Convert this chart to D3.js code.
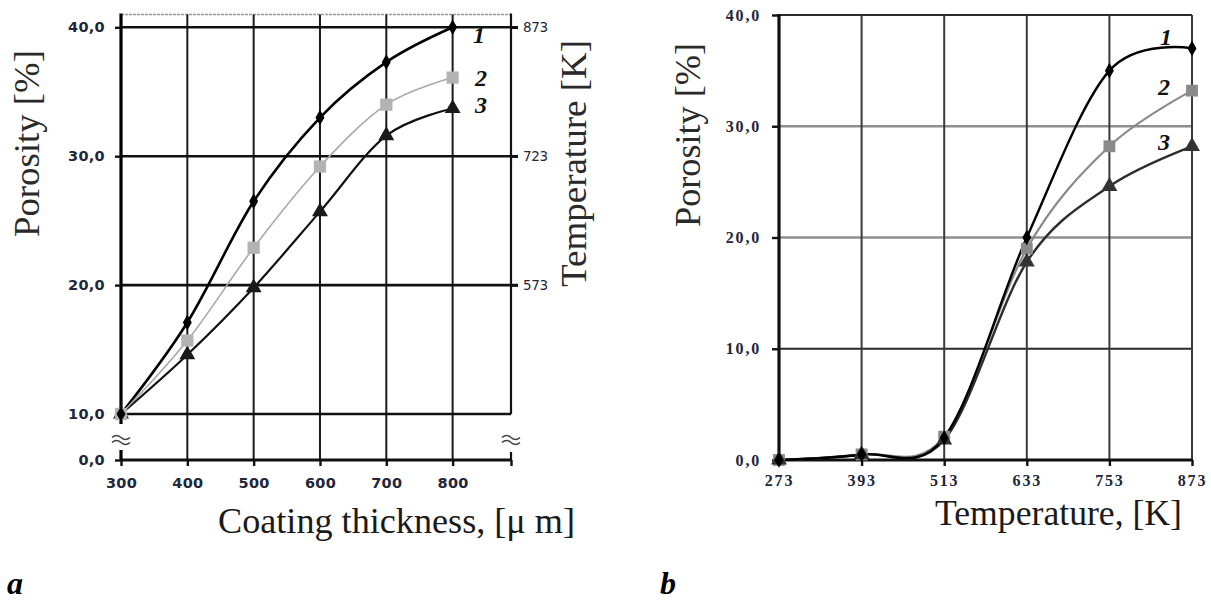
<!DOCTYPE html>
<html><head><meta charset="utf-8">
<script src="https://cdn.jsdelivr.net/npm/d3@7"></script>
<style>
html,body{margin:0;padding:0;background:#fff;}
svg{display:block;}
</style>
</head><body>
<script>
// ---------- data ----------
const thickness = [300, 400, 500, 600, 700, 800];
const porosityA1 = [10, 17.1, 26.5, 33.0, 37.3, 40.0];
const porosityA2 = [10, 15.7, 22.9, 29.2, 34.0, 36.1];
const porosityA3 = [10, 14.6, 19.8, 25.7, 31.6, 33.7];
const porosityTicksA = [0, 10, 20, 30, 40];
const temperatureTicksA = [573, 723, 873];

const temperature = [273, 393, 513, 633, 753, 873];
const porosityB1 = [0, 0.5, 2.0, 20.0, 35.0, 37.0];
const porosityB2 = [0, 0.5, 2.1, 19.0, 28.2, 33.2];
const porosityB3 = [0, 0.5, 1.8, 17.8, 24.6, 28.2];
const porosityTicksB = [0, 10, 20, 30, 40];

const seriesNames = ["1", "2", "3"];

// ---------- setup ----------
const svg = d3.select("body").append("svg").attr("width", 1211).attr("height", 603);
const fmt = v => d3.format(".1f")(v).replace(".", ",");
const curve = d3.curveCardinal.tension(0);
const tickFont = "DejaVu Sans, sans-serif";
const serif = "Liberation Serif, Times New Roman, serif";
const labelColor = "#22263a";

function markers(g, pts, kind, size, color) {
  const sym = kind === "diamond" ? d3.symbolDiamond : kind === "square" ? d3.symbolSquare : d3.symbolTriangle;
  g.selectAll(null).data(pts).enter().append("path")
    .attr("d", d3.symbol().type(sym).size(size))
    .attr("transform", d => `translate(${d[0]},${d[1]})`)
    .attr("fill", color);
}

// =============== Chart a ===============
const xA = d3.scaleLinear().domain([300, 888]).range([121, 511]);
const yA = d3.scaleLinear().domain([0, 10, 40]).range([460, 414, 27.3]);
const tA = d3.scaleLinear().domain([573, 873]).range([yA(20), yA(40)]);
const xEndA = 888, yTopA = 41;
const gA = svg.append("g");

gA.append("line").attr("x1", xA(300)).attr("x2", xA(xEndA)).attr("y1", yA(yTopA)).attr("y2", yA(yTopA))
  .attr("stroke", "#9a9a9a").attr("stroke-width", 1.5).attr("stroke-dasharray", "3,1");

gA.selectAll(null).data(thickness.slice(1)).enter().append("line")
  .attr("x1", d => xA(d)).attr("x2", d => xA(d)).attr("y1", yA(yTopA)).attr("y2", yA(0))
  .attr("stroke", "#1a1a1a").attr("stroke-width", 2);

gA.selectAll(null).data(porosityTicksA.slice(1)).enter().append("line")
  .attr("x1", xA(300)).attr("x2", d => d >= 20 ? xA(xEndA) + 7 : xA(xEndA))
  .attr("y1", d => yA(d)).attr("y2", d => yA(d))
  .attr("stroke", "#111").attr("stroke-width", 2.6);
gA.append("line").attr("x1", xA(300)).attr("x2", xA(xEndA)).attr("y1", yA(0)).attr("y2", yA(0))
  .attr("stroke", "#111").attr("stroke-width", 3);

gA.append("line").attr("x1", xA(300)).attr("x2", xA(300)).attr("y1", yA(yTopA) - 1).attr("y2", 424)
  .attr("stroke", "#000").attr("stroke-width", 3.2);
gA.append("line").attr("x1", xA(300)).attr("x2", xA(300)).attr("y1", 450).attr("y2", yA(0))
  .attr("stroke", "#000").attr("stroke-width", 3.2);
gA.append("line").attr("x1", xA(xEndA)).attr("x2", xA(xEndA)).attr("y1", yA(yTopA) - 1).attr("y2", yA(10))
  .attr("stroke", "#111").attr("stroke-width", 2.2);
gA.append("line").attr("x1", xA(xEndA)).attr("x2", xA(xEndA)).attr("y1", 452).attr("y2", yA(0))
  .attr("stroke", "#111").attr("stroke-width", 2.2);

[xA(300), xA(xEndA)].forEach(cx => {
  [-2.5, 2.5].forEach(dy => {
    gA.append("path")
      .attr("d", `M${cx - 9},${440 + dy} q4.5,-4 9,0 t9,0`)
      .attr("fill", "none").attr("stroke", "#444").attr("stroke-width", 1.6);
  });
});

const axLA = gA.append("g").attr("transform", `translate(${xA(300)},0)`)
  .call(d3.axisLeft(yA).tickValues(porosityTicksA).tickSize(6).tickPadding(10).tickFormat(fmt));
const axBA = gA.append("g").attr("transform", `translate(0,${yA(0)})`)
  .call(d3.axisBottom(xA).tickValues(thickness.concat([xEndA])).tickSize(6).tickPadding(12)
    .tickFormat(d => d === xEndA ? "" : d));
const axRA = gA.append("g").attr("transform", `translate(${xA(xEndA)},0)`)
  .call(d3.axisRight(tA).tickValues(temperatureTicksA).tickSize(7).tickPadding(5).tickFormat(d => d));
[axLA, axBA, axRA].forEach(a => {
  a.select(".domain").remove();
  a.selectAll(".tick line").attr("stroke", "#111").attr("stroke-width", 2.4);
  a.selectAll("text").attr("font-family", tickFont).attr("font-size", 14.5).attr("font-weight", "bold")
    .attr("fill", labelColor).attr("letter-spacing", 0.3);
});
axRA.selectAll("text").attr("font-weight", "normal").attr("font-size", 13.5).attr("letter-spacing", -0.3);

const lineA = d3.line().x(d => xA(d[0])).y(d => yA(d[1])).curve(curve);
const dataA = [porosityA1, porosityA2, porosityA3].map(s => thickness.map((x, i) => [x, s[i]]));
const styleA = [
  { stroke: "#000", w: 2.6, kind: "diamond", size: 70, fill: "#000" },
  { stroke: "#a8a8a8", w: 1.6, kind: "square", size: 150, fill: "#b3b3b3" },
  { stroke: "#111", w: 2.2, kind: "triangle", size: 110, fill: "#1a1a1a" }
];
[2, 0, 1].forEach(i => {
  gA.append("path").datum(dataA[i]).attr("d", lineA).attr("fill", "none")
    .attr("stroke", styleA[i].stroke).attr("stroke-width", styleA[i].w);
});
[2, 1, 0].forEach(i => {
  markers(gA, dataA[i].map(d => [xA(d[0]), yA(d[1])]), styleA[i].kind, styleA[i].size, styleA[i].fill);
});

const labPosA = [[479, 43], [481, 86], [481, 113]];
seriesNames.forEach((n, i) => {
  gA.append("text").attr("x", labPosA[i][0]).attr("y", labPosA[i][1]).attr("text-anchor", "middle")
    .attr("font-family", serif).attr("font-weight", "bold").attr("font-style", "italic")
    .attr("font-size", 24).attr("fill", "#111").text(n);
});

gA.append("text").attr("transform", "translate(39,143.5) rotate(-90)").attr("text-anchor", "middle")
  .attr("font-family", serif).attr("font-size", 35).attr("fill", "#2a2a2a")
  .attr("textLength", 187).attr("lengthAdjust", "spacingAndGlyphs").text("Porosity [%]");
gA.append("text").attr("transform", "translate(586,163.5) rotate(-90)").attr("text-anchor", "middle")
  .attr("font-family", serif).attr("font-size", 35).attr("fill", "#2a2a2a")
  .attr("textLength", 247).attr("lengthAdjust", "spacingAndGlyphs").text("Temperature [K]");
gA.append("text").attr("x", 396.5).attr("y", 533).attr("text-anchor", "middle")
  .attr("font-family", serif).attr("font-size", 35).attr("fill", "#1a1a1a")
  .attr("textLength", 357).attr("lengthAdjust", "spacingAndGlyphs").text("Coating thickness, [\u03bc m]");
gA.append("text").attr("x", 7).attr("y", 594)
  .attr("font-family", serif).attr("font-size", 32).attr("font-weight", "bold").attr("font-style", "italic")
  .attr("fill", "#000").text("a");

// =============== Chart b ===============
const xB = d3.scaleLinear().domain([273, 873]).range([779, 1192]);
const yB = d3.scaleLinear().domain([0, 40]).range([460, 15]);
const gB = svg.append("g");

gB.selectAll(null).data(porosityTicksB.slice(1)).enter().append("line")
  .attr("x1", xB(273)).attr("x2", xB(873)).attr("y1", d => yB(d)).attr("y2", d => yB(d))
  .attr("stroke", d => (d === 20 || d === 30) ? "#8e8e8e" : "#2a2a2a")
  .attr("stroke-width", d => (d === 20 || d === 30) ? 2.6 : 2);
gB.selectAll(null).data(temperature.slice(1)).enter().append("line")
  .attr("x1", d => xB(d)).attr("x2", d => xB(d)).attr("y1", yB(40)).attr("y2", yB(0))
  .attr("stroke", "#3a3a3a").attr("stroke-width", 2);
gB.append("line").attr("x1", xB(273)).attr("x2", xB(273)).attr("y1", yB(40) - 1).attr("y2", yB(0) + 1)
  .attr("stroke", "#111").attr("stroke-width", 3.2);
gB.append("line").attr("x1", xB(273)).attr("x2", xB(873) + 1).attr("y1", yB(0)).attr("y2", yB(0))
  .attr("stroke", "#111").attr("stroke-width", 3.2);

const axLB = gB.append("g").attr("transform", `translate(${xB(273)},0)`)
  .call(d3.axisLeft(yB).tickValues(porosityTicksB).tickSize(7).tickPadding(11).tickFormat(fmt));
const axBB = gB.append("g").attr("transform", `translate(0,${yB(0)})`)
  .call(d3.axisBottom(xB).tickValues(temperature).tickSize(6).tickPadding(9).tickFormat(d => d));
[axLB, axBB].forEach(a => {
  a.select(".domain").remove();
  a.selectAll(".tick line").attr("stroke", "#111").attr("stroke-width", 2.4);
  a.selectAll("text").attr("font-family", serif).attr("font-size", 16).attr("font-weight", "bold")
    .attr("fill", labelColor).attr("letter-spacing", 1.8);
});

const lineB = d3.line().x(d => xB(d[0])).y(d => yB(d[1])).curve(curve);
const dataB = [porosityB1, porosityB2, porosityB3].map(s => temperature.map((x, i) => [x, s[i]]));
const styleB = [
  { stroke: "#000", w: 2.4, kind: "diamond", size: 70, fill: "#000" },
  { stroke: "#8a8a8a", w: 2.2, kind: "square", size: 140, fill: "#8a8a8a" },
  { stroke: "#2e2e2e", w: 2.4, kind: "triangle", size: 110, fill: "#333" }
];
[1, 2, 0].forEach(i => {
  gB.append("path").datum(dataB[i]).attr("d", lineB).attr("fill", "none")
    .attr("stroke", styleB[i].stroke).attr("stroke-width", styleB[i].w);
});
[1, 2, 0].forEach(i => {
  markers(gB, dataB[i].map(d => [xB(d[0]), yB(d[1])]), styleB[i].kind, styleB[i].size, styleB[i].fill);
});

const labPosB = [[1166, 45], [1164, 95], [1164, 150]];
seriesNames.forEach((n, i) => {
  gB.append("text").attr("x", labPosB[i][0]).attr("y", labPosB[i][1]).attr("text-anchor", "middle")
    .attr("font-family", serif).attr("font-weight", "bold").attr("font-style", "italic")
    .attr("font-size", 24).attr("fill", "#111").text(n);
});

gB.append("text").attr("transform", "translate(700,135) rotate(-90)").attr("text-anchor", "middle")
  .attr("font-family", serif).attr("font-size", 35).attr("fill", "#2a2a2a")
  .attr("textLength", 184).attr("lengthAdjust", "spacingAndGlyphs").text("Porosity [%]");
gB.append("text").attr("x", 1058.5).attr("y", 525).attr("text-anchor", "middle")
  .attr("font-family", serif).attr("font-size", 35).attr("fill", "#1a1a1a")
  .attr("textLength", 247).attr("lengthAdjust", "spacingAndGlyphs").text("Temperature, [K]");
gB.append("text").attr("x", 660).attr("y", 594)
  .attr("font-family", serif).attr("font-size", 32).attr("font-weight", "bold").attr("font-style", "italic")
  .attr("fill", "#000").text("b");
</script>
</body></html>
